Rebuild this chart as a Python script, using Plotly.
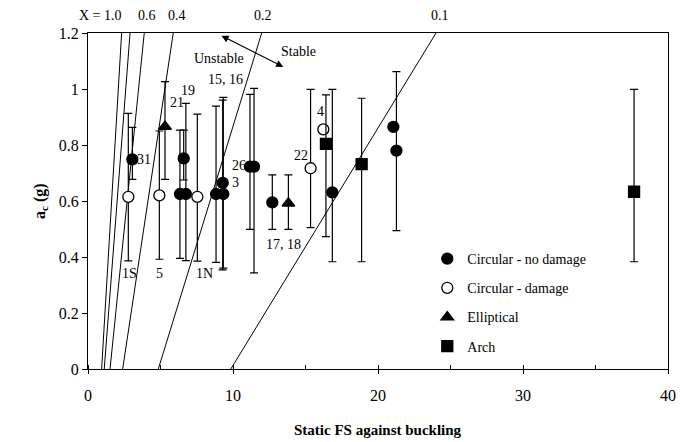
import plotly.graph_objects as go

FONT = "Times New Roman, Liberation Serif, Times, serif"

# ---- data ----
# Circular - no damage
nd_x = [3.06, 6.34, 6.60, 6.75, 8.83, 9.33, 9.29, 11.17, 11.45, 12.71, 16.85, 21.06, 21.27]
nd_y = [0.749, 0.625, 0.752, 0.625, 0.625, 0.625, 0.665, 0.723, 0.723, 0.595, 0.631, 0.865, 0.780]
nd_hi = [0.863, 0.853, 0.853, 0.949, 0.939, 0.970, 0.960, 0.981, 1.002, 0.693, 0.999, 0.865, 1.062]
nd_lo = [0.677, 0.395, 0.675, 0.387, 0.381, 0.360, 0.354, 0.499, 0.343, 0.499, 0.383, 0.865, 0.494]

# Circular - damage
d_x = [2.78, 4.92, 7.54, 15.35, 16.23]
d_y = [0.615, 0.620, 0.615, 0.717, 0.856]
d_hi = [0.913, 0.850, 0.910, 0.999, 0.856]
d_lo = [0.386, 0.392, 0.385, 0.505, 0.856]

# Elliptical
e_x = [5.31, 13.82]
e_y = [0.866, 0.592]
e_hi = [1.026, 0.693]
e_lo = [0.677, 0.499]

# Arch
a_x = [16.41, 18.87, 37.66]
a_y = [0.804, 0.732, 0.633]
a_hi = [0.979, 0.967, 0.999]
a_lo = [0.473, 0.383, 0.383]

# X lines: FS where each line meets a_c = 0 and a_c = 1.2
x_line_fs_at_0 = [0.94, 1.12, 1.52, 2.39, 4.85, 9.85]
x_line_fs_at_top = [2.32, 2.90, 3.88, 5.88, 11.98, 24.0]
line_y_ends = [0.0, 1.2]

# labels above the plot for the lines
top_label_text = ["X = 1.0", "0.6", "0.4", "0.2", "0.1"]
top_label_x = [0.83, 4.07, 6.14, 12.07, 24.3]

# point labels
pt_label_text = ["31", "1S", "5", "1N", "21", "19", "15, 16", "3", "26", "17, 18", "22", "4"]
pt_label_x = [3.87, 2.85, 4.90, 8.0, 6.12, 6.92, 9.45, 10.19, 10.41, 13.47, 14.67, 16.0]
pt_label_y = [0.749, 0.342, 0.342, 0.342, 0.953, 0.994, 1.035, 0.665, 0.728, 0.443, 0.764, 0.919]

x_ticks = [0, 10, 20, 30, 40]
y_ticks = [0, 0.2, 0.4, 0.6, 0.8, 1.0, 1.2]
y_tick_text = ["0", "0.2", "0.4", "0.6", "0.8", "1", "1.2"]

fig = go.Figure()

for x0, x1 in zip(x_line_fs_at_0, x_line_fs_at_top):
    fig.add_trace(go.Scatter(x=[x0, x1], y=line_y_ends, mode="lines",
                             line=dict(color="black", width=1), showlegend=False,
                             hoverinfo="skip"))


def err(y, hi, lo):
    return dict(type="data", symmetric=False,
                array=[h - v for h, v in zip(hi, y)],
                arrayminus=[v - l for v, l in zip(y, lo)],
                color="black", thickness=1.2, width=4)


series = [
    ("Circular - no damage", nd_x, nd_y, nd_hi, nd_lo, "circle", "black"),
    ("Circular - damage", d_x, d_y, d_hi, d_lo, "circle", "white"),
    ("Elliptical", e_x, e_y, e_hi, e_lo, "triangle-up", "black"),
    ("Arch", a_x, a_y, a_hi, a_lo, "square", "black"),
]
for i, (name, xs, ys, hi, lo, sym, fill) in enumerate(series):
    fig.add_trace(go.Scatter(
        x=xs, y=ys, mode="markers", name=name, legendgroup=f"g{i}",
        error_y=err(ys, hi, lo),
        marker=dict(symbol=sym, size=11, color=fill,
                    line=dict(color="black", width=1.3)),
    ))

annotations = []
for t, x in zip(top_label_text, top_label_x):
    annotations.append(dict(x=x, y=1, xref="x", yref="paper", yshift=18,
                            yanchor="middle", xanchor="center",
                            text=t, showarrow=False,
                            font=dict(family=FONT, size=14, color="black")))
for t, x, y in zip(pt_label_text, pt_label_x, pt_label_y):
    annotations.append(dict(x=x, y=y, xref="x", yref="y", text=t, showarrow=False,
                            xanchor="center", yanchor="middle",
                            font=dict(family=FONT, size=14, color="black")))

# Stable / Unstable arrow
annotations.append(dict(x=13.47, y=1.079, ax=9.1, ay=1.193, xref="x", yref="y",
                        axref="x", ayref="y", text="", showarrow=True,
                        arrowhead=2, arrowside="end+start", arrowsize=1.2,
                        arrowwidth=1.2, arrowcolor="black"))
annotations.append(dict(x=9.0, y=1.11, xref="x", yref="y", text="Unstable",
                        showarrow=False, xanchor="center", yanchor="middle",
                        font=dict(family=FONT, size=14, color="black")))
annotations.append(dict(x=14.5, y=1.133, xref="x", yref="y", text="Stable",
                        showarrow=False, xanchor="center", yanchor="middle",
                        font=dict(family=FONT, size=14, color="black")))

# axis titles
annotations.append(dict(x=0.5, y=0, xref="paper", yref="paper", yshift=-61,
                        xanchor="center", yanchor="middle",
                        text="<b>Static FS against buckling</b>", showarrow=False,
                        font=dict(family=FONT, size=15, color="black")))
annotations.append(dict(x=0, y=0.5, xref="paper", yref="paper", xshift=-48,
                        xanchor="center", yanchor="middle",
                        text="<b>a<sub>c</sub> (g)</b>", textangle=-90, showarrow=False,
                        font=dict(family=FONT, size=16, color="black")))

fig.update_layout(
    width=689, height=442,
    margin=dict(l=88, r=21, t=33, b=73),
    paper_bgcolor="white", plot_bgcolor="white",
    font=dict(family=FONT, size=15, color="black"),
    showlegend=True,
    legend=dict(x=0.585, y=0.375, xanchor="left", yanchor="top",
                bgcolor="rgba(0,0,0,0)", borderwidth=0, tracegroupgap=8,
                font=dict(family=FONT, size=14, color="black")),
    annotations=annotations,
    xaxis=dict(range=[0, 40], tickvals=x_ticks, showgrid=False, zeroline=False,
               showline=True, linecolor="black", linewidth=1.2, mirror=True,
               ticks="outside", ticklen=4, tickcolor="black",
               minor=dict(dtick=5, ticks="inside", ticklen=4, tickcolor="black"),
               ticklabelstandoff=8,
               tickfont=dict(family=FONT, size=16)),
    yaxis=dict(range=[0, 1.2], tickvals=y_ticks, ticktext=y_tick_text,
               showgrid=False, zeroline=False,
               showline=True, linecolor="black", linewidth=1.2, mirror=True,
               ticks="outside", ticklen=5, tickcolor="black",
               tickfont=dict(family=FONT, size=16)),
)

fig.write_html("out.html")
